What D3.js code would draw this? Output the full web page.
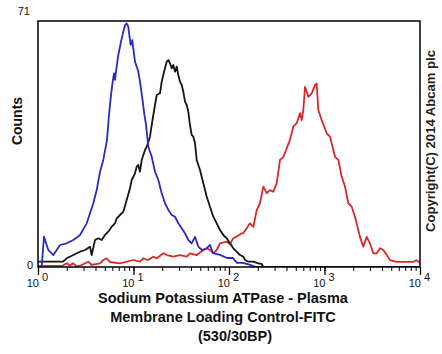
<!DOCTYPE html>
<html>
<head>
<meta charset="utf-8">
<script src="https://cdn.jsdelivr.net/npm/d3@7"></script>
<style>
  body { margin: 0; background: #fff; }
  svg { display: block; font-family: "Liberation Sans", Arial, sans-serif; }
</style>
</head>
<body>
<svg id="chart" width="442" height="354"></svg>
<script>
// fluorescence intensity (log axis) and counts
const blue_x = [1.093, 1.156, 1.282, 1.446, 1.570, 1.700, 1.998, 2.342, 2.754, 3.236, 3.504, 3.794, 4.119, 4.461, 4.828, 5.280, 5.540, 5.813, 6.057, 6.250, 6.403, 6.559, 6.932, 7.398, 7.820, 8.147, 8.488, 8.822, 9.036, 9.347, 9.714, 9.95, 10.37, 10.80, 11.23, 11.70, 12.37, 12.98, 13.52, 14.29, 15.51, 16.80, 18.19, 19.74, 21.37, 23.14, 25.12, 27.21, 29.46, 31.97, 34.62, 37.49, 40.68, 44.06, 47.70, 52.15, 57.43, 63.24, 68.01, 80.5, 95.3, 110.1, 121.3, 140.2, 166.0, 191.8, 10000];
const blue_y = [0.1, 8.75, 4.91, 3.46, 4.91, 6.35, 6.84, 7.79, 9.24, 12.6, 15.5, 18.4, 22.2, 27.5, 30.9, 36.7, 43.9, 49.6, 53.5, 55.9, 54.0, 56.4, 61.2, 65.0, 67.9, 69.8, 70.3, 69.4, 67.0, 64.1, 65.5, 63.1, 59.3, 57.8, 56.4, 53.5, 48.7, 44.1, 41.0, 34.7, 31.8, 27.5, 25.1, 21.3, 18.4, 16.5, 15.0, 14.5, 12.6, 11.2, 9.7, 7.8, 6.8, 8.7, 5.9, 4.9, 5.2, 6.35, 4.0, 3.5, 2.6, 2.6, 1.2, 1.2, 0.6, 0, 0];

const black_x = [1.0, 1.827, 1.998, 2.342, 2.754, 3.106, 3.504, 3.650, 3.953, 4.280, 4.645, 5.030, 5.447, 5.910, 6.403, 6.671, 7.222, 7.820, 8.488, 9.192, 9.576, 10.37, 10.80, 11.23, 11.70, 12.19, 13.20, 13.75, 14.89, 15.51, 16.12, 16.80, 17.50, 18.95, 19.74, 20.51, 21.37, 22.26, 23.14, 24.11, 25.12, 26.11, 27.21, 28.34, 29.46, 30.69, 31.97, 33.23, 34.62, 36.07, 37.49, 39.05, 40.68, 42.29, 44.06, 45.90, 49.71, 53.83, 58.43, 63.24, 68.48, 74.33, 80.51, 87.17, 94.6, 102.4, 110.9, 120.4, 130.4, 141.2, 147.1, 159.3, 179.7, 202.7, 220.0, 228.7, 10000];
const black_y = [1.53, 1.53, 2.51, 3.46, 4.42, 4.91, 5.86, 3.46, 7.79, 8.28, 7.79, 9.24, 10.19, 11.63, 12.61, 14.06, 15.01, 15.96, 19.34, 22.71, 25.11, 27.04, 28.95, 29.44, 27.50, 30.88, 33.77, 34.72, 37.61, 40.98, 43.87, 46.76, 49.64, 50.13, 53.48, 55.41, 57.35, 59.25, 59.74, 58.79, 57.35, 58.30, 56.37, 57.81, 55.41, 53.48, 52.53, 50.59, 47.71, 46.76, 44.82, 40.98, 38.10, 37.61, 35.70, 30.88, 28.00, 24.16, 20.29, 17.40, 14.52, 12.61, 10.68, 9.24, 8.28, 6.84, 5.40, 4.42, 3.46, 2.97, 2.02, 1.53, 1.53, 1.07, 0.87, 0, 0];

const red_x = [1.0, 1.784, 1.998, 2.163, 2.342, 2.542, 2.868, 3.363, 3.650, 4.461, 4.828, 5.242, 5.675, 7.222, 9.95, 11.70, 12.66, 14.19, 16.12, 17.62, 20.51, 22.43, 26.11, 30.69, 36.07, 39.05, 45.90, 53.83, 58.43, 63.24, 68.48, 74.33, 80.51, 94.6, 102.4, 110.9, 120.4, 135.8, 141, 166, 180, 195, 211, 229, 248, 269, 291, 316, 342, 371, 435, 471, 512, 554, 577, 600, 625, 677, 734, 796, 828, 861, 935, 1054, 1142, 1289, 1396, 1513, 1640, 1775, 1927, 2084, 2353, 2548, 2766, 2995, 3243, 3523, 3812, 4130, 4477, 4853, 5700, 8520, 9230, 10000];
const red_y = [0.3, 0.3, 1.07, 0.43, 1.07, 0.1, 0.58, 1.53, 0.58, 1.07, 2.02, 2.51, 1.44, 1.07, 2.02, 1.53, 2.51, 2.02, 2.97, 2.51, 3.95, 3.46, 2.97, 3.46, 2.97, 3.95, 3.46, 4.91, 5.40, 4.91, 3.95, 4.91, 6.84, 7.30, 6.64, 8.28, 8.75, 9.73, 9.72, 12.6, 11.6, 16.4, 18.4, 23.2, 21.3, 22.2, 21.7, 24.2, 30.9, 31.8, 36.7, 40.5, 41.5, 44.4, 42.4, 45.3, 52.0, 49.1, 50.1, 52.5, 53.0, 45.3, 42.4, 38.6, 37.6, 31.8, 30.9, 26.1, 23.2, 18.4, 17.4, 14.5, 8.7, 5.86, 8.7, 6.8, 3.95, 3.95, 5.4, 4.9, 3.5, 2.0, 1.5, 1.5, 2.0, 1.1];

const decades = [1, 10, 100, 1000, 10000];
const exponents = ["0", "1", "2", "3", "4"];
const y_labels = [0, 71];
const x_title = ["Sodium Potassium ATPase - Plasma", "Membrane Loading Control-FITC", "(530/30BP)"];
const y_title = "Counts";
const copyright = "Copyright(C) 2014 Abcam plc";

const svg = d3.select("#chart");
const plot_box = { left: 38, right: 420, top: 21, bottom: 267 };

const x = d3.scaleLog().domain([1, 10000]).range([plot_box.left, plot_box.right]);
const y = d3.scaleLinear().domain([0, 71]).range([plot_box.bottom, plot_box.top]);

svg.append("clipPath").attr("id", "clip")
    .append("rect")
    .attr("x", plot_box.left).attr("y", plot_box.top - 2)
    .attr("width", plot_box.right - plot_box.left)
    .attr("height", plot_box.bottom - plot_box.top + 2);

const line = d3.line()
    .x(d => x(d[0]))
    .y(d => y(d[1]));

const series = [
    { xs: red_x, ys: red_y, color: "#d42a2a" },
    { xs: black_x, ys: black_y, color: "#151515" },
    { xs: blue_x, ys: blue_y, color: "#2a2ac4" }
];

const plot = svg.append("g").attr("clip-path", "url(#clip)");
series.forEach(s => {
    plot.append("path")
        .datum(s.xs.map((v, i) => [v, s.ys[i]]))
        .attr("d", line)
        .attr("fill", "none")
        .attr("stroke", s.color)
        .attr("stroke-width", 1.8)
        .attr("stroke-linejoin", "round");
});

// minor and major ticks on the log axis
svg.append("g")
    .attr("transform", `translate(0,${plot_box.bottom})`)
    .call(d3.axisBottom(x).tickValues(x.ticks()).tickSize(4).tickFormat(""))
    .call(g => g.select(".domain").remove())
    .selectAll("line").attr("stroke", "#000").attr("stroke-width", 1);

svg.append("g")
    .attr("transform", `translate(0,${plot_box.bottom})`)
    .call(d3.axisBottom(x).tickValues(decades).tickSize(8).tickFormat(""))
    .call(g => g.select(".domain").remove())
    .selectAll("line").attr("stroke", "#000").attr("stroke-width", 1.3);

// frame
svg.append("rect")
    .attr("x", plot_box.left).attr("y", plot_box.top)
    .attr("width", plot_box.right - plot_box.left)
    .attr("height", plot_box.bottom - plot_box.top)
    .attr("fill", "none")
    .attr("stroke", "#000")
    .attr("stroke-width", 1.5);

// decade labels: 10 with exponent
const xl = svg.append("g").attr("font-size", 11).attr("fill", "#111");
decades.forEach((d, i) => {
    xl.append("text")
        .attr("x", x(d) + 1)
        .attr("y", 287)
        .attr("text-anchor", "end")
        .text("10");
    xl.append("text")
        .attr("x", x(d) + 4)
        .attr("y", 281)
        .text(exponents[i]);
});

svg.append("g").attr("font-size", 11).attr("fill", "#111")
    .selectAll("text")
    .data(y_labels)
    .join("text")
    .attr("x", d => d === 0 ? 33 : 30)
    .attr("y", d => d === 0 ? y(d) + 2 : 15)
    .attr("text-anchor", "end")
    .text(d => d);

// titles
svg.append("g")
    .selectAll("text")
    .data(x_title)
    .join("text")
    .attr("x", (d, i) => i === 2 ? 235 : 223)
    .attr("y", (d, i) => 303 + i * 19)
    .attr("text-anchor", "middle")
    .attr("font-size", 14.5)
    .attr("font-weight", "bold")
    .attr("fill", "#111")
    .text(d => d);

svg.append("text")
    .attr("transform", "translate(22,121) rotate(-90)")
    .attr("text-anchor", "middle")
    .attr("font-size", 14)
    .attr("font-weight", "bold")
    .attr("fill", "#111")
    .text(y_title);

svg.append("text")
    .attr("transform", "translate(435,141) rotate(-90)")
    .attr("text-anchor", "middle")
    .attr("font-size", 12)
    .attr("font-weight", "bold")
    .attr("fill", "#222")
    .attr("textLength", 182)
    .attr("lengthAdjust", "spacingAndGlyphs")
    .text(copyright);
</script>
</body>
</html>
